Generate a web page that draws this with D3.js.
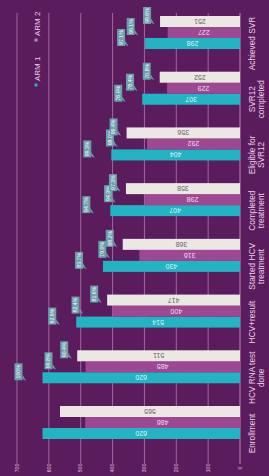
<!DOCTYPE html>
<html>
<head>
<meta charset="utf-8">
<script src="https://cdn.jsdelivr.net/npm/d3@7"></script>
<style>
  body { margin: 0; background: #5a1c5c; }
  svg { display: block; font-family: "Liberation Sans", Arial, sans-serif; }
</style>
</head>
<body>
<div id="chart"></div>
<script>
// data (chart is drawn turned on its side)
let categories = ["Enrollment", "HCV RNA test done", "HCV+result", "Started HCV treatment",
  "Completed treatment", "Eligible for SVR12", "SVR12 completed", "Achieved SVR"];
let labelLines = [["Enrollment"], ["HCV RNA test", "done"], ["HCV+result"], ["Started HCV", "treatment"],
  ["Completed", "treatment"], ["Eligible for", "SVR12"], ["SVR12", "completed"], ["Achieved SVR"]];
let seriesNames = ["ARM 1", "ARM 2", "Total"];
let arm1 = [620, 620, 514, 430, 407, 404, 307, 298];
let arm2 = [486, 485, 400, 316, 298, 292, 229, 227];
let total = [565, 511, 417, 368, 358, 356, 252, 251];
let arm1Pct = [null, "100%", "82.9%", "83.7%", "94.7%", "99.3%", "76.0%", "97.1%"];
let arm2Pct = [null, "99.8%", "82.4%", "79.0%", "94.3%", "98.0%", "78.4%", "99.1%"];
let totalPct = [null, "90.4%", "81.6%", "88.2%", "97.3%", "99.4%", "70.8%", "99.6%"];
let ticks = [0, 100, 200, 300, 400, 500, 600, 700];

let width = 269, height = 476;
let colors = ["#22b4c3", "#9e4893", "#ebe8e3"];
let valueColors = ["#d8f6f8", "#f3dcf0", "#666666"];
let calloutOffset = [20, 33, 9];

let svg = d3.select("#chart").append("svg")
  .attr("width", width)
  .attr("height", height);

svg.append("rect").attr("width", width).attr("height", height).attr("fill", "#5a1c5c");

// value axis runs right to left
let xScale = d3.scaleLinear().domain([0, 700]).range([240, 17]);
// categories run bottom to top
let yScale = d3.scalePoint().domain(categories).range([433.5, 43.5]);
let inner = d3.scaleBand().domain(seriesNames).range([16.5, -16.5]);

// gridlines
svg.append("g")
  .selectAll("line")
  .data(ticks.slice(1))
  .enter()
  .append("line")
  .attr("x1", d => xScale(d))
  .attr("x2", d => xScale(d))
  .attr("y1", 13)
  .attr("y2", 464)
  .attr("stroke", "#d9a6d3")
  .attr("stroke-opacity", 0.7)
  .attr("stroke-width", 0.8);

// baseline
svg.append("line")
  .attr("x1", xScale(0)).attr("x2", xScale(0))
  .attr("y1", 13).attr("y2", 464)
  .attr("stroke", "#d9a6d3").attr("stroke-width", 0.8);

// tick labels
svg.append("g")
  .selectAll("text")
  .data(ticks)
  .enter()
  .append("text")
  .attr("transform", d => "translate(" + xScale(d) + ",468) rotate(-90)")
  .attr("text-anchor", "middle")
  .attr("dy", "0.35em")
  .attr("font-size", 5)
  .attr("fill", "#e6c4e2")
  .text(d => d);

// one row per bar
let rows = [];
categories.forEach(function(c, i) {
  let vals = [arm1[i], arm2[i], total[i]];
  let pcts = [arm1Pct[i], arm2Pct[i], totalPct[i]];
  seriesNames.forEach(function(s, j) {
    rows.push({cat: c, series: s, j: j, value: vals[j], pct: pcts[j]});
  });
});

let barY = d => yScale(d.cat) + inner(d.series) - inner.bandwidth();

svg.append("g")
  .selectAll("rect")
  .data(rows)
  .enter()
  .append("rect")
  .attr("x", d => xScale(d.value))
  .attr("y", d => barY(d))
  .attr("width", d => xScale(0) - xScale(d.value))
  .attr("height", inner.bandwidth())
  .attr("fill", d => colors[d.j]);

// values inside the bars (upside down)
svg.append("g")
  .selectAll("text")
  .data(rows)
  .enter()
  .append("text")
  .attr("transform", d => "translate(" + (xScale(d.value) + xScale(0)) / 2 + "," +
    (barY(d) + inner.bandwidth() / 2) + ") rotate(180)")
  .attr("text-anchor", "middle")
  .attr("dy", "0.35em")
  .attr("font-size", 7)
  .attr("fill", d => valueColors[d.j])
  .text(d => d.value);

// percentage callouts
let callouts = svg.append("g")
  .selectAll("g")
  .data(rows.filter(d => d.pct))
  .enter()
  .append("g")
  .attr("transform", function(d) {
    let right = xScale(d.value) - calloutOffset[d.j];
    let cy = barY(d) + inner.bandwidth() / 2 - 6;
    return "translate(" + right + "," + cy + ")";
  });

callouts.append("rect")
  .attr("x", -8)
  .attr("y", -8.5)
  .attr("width", 8)
  .attr("height", 17)
  .attr("fill", "#6a9ea9");

callouts.append("path")
  .attr("d", "M0,3 L0,7 L3.5,9 Z")
  .attr("fill", "#6a9ea9");

callouts.append("text")
  .attr("transform", "translate(-4,0) rotate(-90)")
  .attr("text-anchor", "middle")
  .attr("dy", "0.35em")
  .attr("font-size", 5.2)
  .attr("fill", "#ffffff")
  .text(d => d.pct);

// category labels, one text per line so each can be turned
categories.forEach(function(c, i) {
  labelLines[i].forEach(function(line, k) {
    svg.append("text")
      .attr("transform", "translate(" + (254.5 + k * 9.5) + "," + yScale(c) + ") rotate(-90)")
      .attr("text-anchor", "middle")
      .attr("font-size", 8.3)
      .attr("fill", "#ecd0ea")
      .text(line);
  });
});

// legend
let legendY = [85, 40];
seriesNames.slice(0, 2).forEach(function(s, j) {
  svg.append("rect")
    .attr("x", 34.5)
    .attr("y", legendY[j] - 1.5)
    .attr("width", 3)
    .attr("height", 3)
    .attr("fill", j == 0 ? colors[0] : "#b98ab4");
  svg.append("text")
    .attr("transform", "translate(39.5," + (legendY[j] - 4) + ") rotate(-90)")
    .attr("text-anchor", "start")
    .attr("font-size", 8)
    .attr("fill", "#ecd0ea")
    .text(s);
});
</script>
</body>
</html>
